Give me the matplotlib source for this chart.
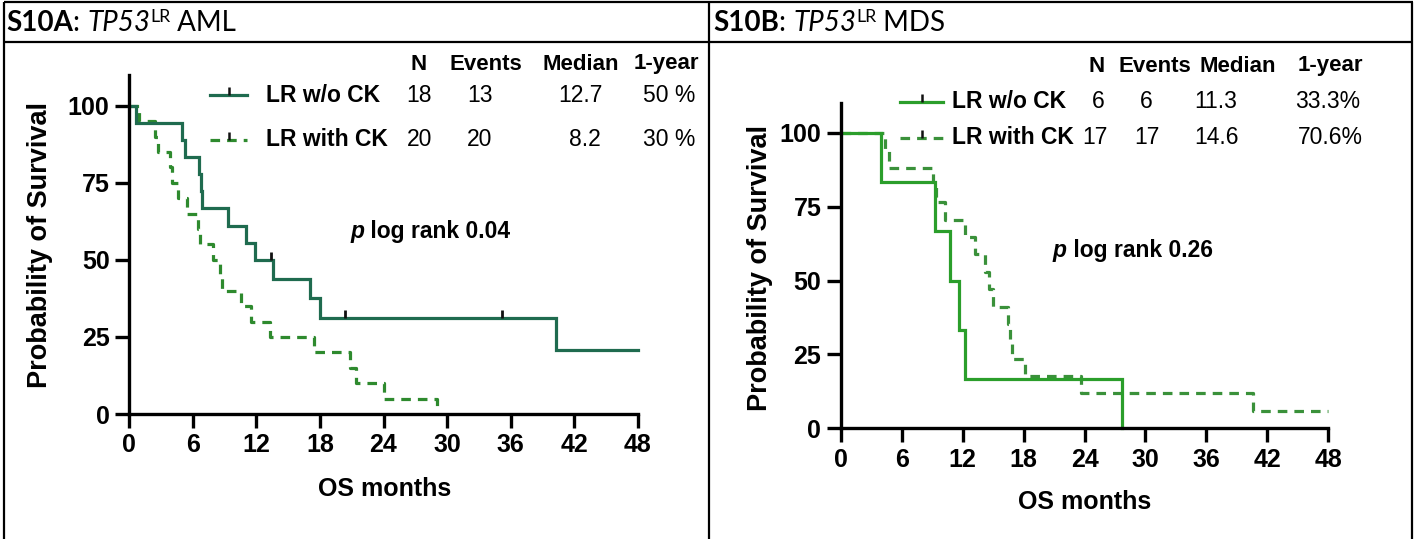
import matplotlib
matplotlib.use("Agg")
import matplotlib.pyplot as plt
from matplotlib.path import Path

W, H = 1417, 539

# ---------------- data ----------------
month_ticks = [0, 6, 12, 18, 24, 30, 36, 42, 48]
surv_ticks = [0, 25, 50, 75, 100]

# S10A  AML
a_wo_t = [0, 0.7, 5.0, 5.3, 6.6, 6.75, 6.9, 9.3, 11.05, 11.9, 13.6, 17.1, 18.0, 40.3, 48]
a_wo_s = [100, 94.4, 88.9, 83.3, 77.8, 72.2, 66.7, 61.1, 55.6, 50.0, 43.75, 37.5, 31.25, 20.8, 20.8]
a_wo_cens_t = [13.4, 20.4, 35.2]
a_wo_cens_s = [50.0, 31.25, 31.25]
a_ck_t = [0, 0.9, 2.45, 2.75, 3.9, 4.05, 4.65, 5.45, 6.5, 6.7, 7.9, 8.6, 8.8, 10.6, 11.5,
          13.3, 17.4, 20.8, 21.4, 24.0, 29.0]
a_ck_s = [100, 95, 90, 85, 80, 75, 70, 65, 60, 55, 50, 45, 40, 35, 30, 25, 20, 15, 10, 5, 0]

# S10B  MDS
b_wo_t = [0, 3.95, 9.3, 10.8, 11.6, 12.2, 27.7]
b_wo_s = [100, 83.3, 66.7, 50.0, 33.3, 16.7, 0]
b_ck_t = [0, 4.4, 4.8, 9.1, 9.4, 10.3, 12.2, 13.2, 14.2, 14.6, 15.0, 16.5, 16.7, 16.9,
          18.1, 23.7, 40.6, 48]
b_ck_s = [100, 94.1, 88.2, 82.4, 76.5, 70.6, 64.7, 58.8, 52.9, 47.1, 41.2, 35.3, 29.4,
          23.5, 17.6, 11.8, 5.9, 5.9]

table_cols = ["N", "Events", "Median", "1-year"]
group_names = ["LR w/o CK", "LR with CK"]
a_table = [["18", "13", "12.7", "50 %"], ["20", "20", "8.2", "30 %"]]
b_table = [["6", "6", "11.3", "33.3%"], ["17", "17", "14.6", "70.6%"]]
a_p = "0.04"
b_p = "0.26"

# ---------------- styling ----------------
A_SOLID = "#1f6b4f"
A_DASH = "#2e8a2e"
B_SOLID = "#2b9e2b"
B_DASH = "#3a913a"
DASH = (0, (3.0, 2.2))
LW = 2.3
BOLD = dict(family=["Liberation Sans", "DejaVu Sans"], weight="bold")
NARROW = ["Liberation Sans Narrow", "Liberation Sans", "DejaVu Sans"]
HEAD = ["Lato", "DejaVu Sans"]
cens_marker = Path([(0, 0), (0, 1)], [Path.MOVETO, Path.LINETO])

fig = plt.figure(figsize=(W / 100, H / 100), dpi=100)
ov = fig.add_axes([0, 0, 1, 1])
ov.set_xlim(0, W)
ov.set_ylim(H, 0)
ov.axis("off")
renderer = fig.canvas.get_renderer()

# table borders
bk = dict(color="black", lw=1.6, solid_capstyle="butt")
ov.plot([4, 1413], [2, 2], **bk)
ov.plot([4, 1413], [42, 42], **bk)
ov.plot([4, 4], [2, H], **bk)
ov.plot([709, 709], [2, H], **bk)
ov.plot([1412, 1412], [2, H], **bk)


def seq(x, y, pieces):
    for s, kw in pieces:
        kw = dict(kw)
        dy = kw.pop("dy", 0)
        t = ov.text(x, y + dy, s, va="baseline", ha="left", **kw)
        x += t.get_window_extent(renderer=renderer).width
    return x


def header(x, tag, disease):
    hs = 20
    seq(x, 31, [(tag, dict(family=HEAD, weight="bold", fontsize=hs)),
                (": ", dict(family=HEAD, fontsize=hs)),
                ("TP53", dict(family=HEAD, style="italic", fontsize=hs)),
                ("LR", dict(family=HEAD, fontsize=hs * 0.64, dy=-9)),
                (" " + disease, dict(family=HEAD, fontsize=hs))])


header(6, "S10A", "AML")
header(713, "S10B", "MDS")


def km_axes(x0, x1, y0, y100):
    ytop = y0 - 1.1 * (y0 - y100)
    ax = fig.add_axes([x0 / W, 1 - y0 / H, (x1 - x0) / W, (y0 - ytop) / H])
    ax.patch.set_alpha(0)
    ax.set_xlim(0, 48)
    ax.set_ylim(0, 110)
    for s in ("top", "right"):
        ax.spines[s].set_visible(False)
    for s in ("left", "bottom"):
        ax.spines[s].set_linewidth(2.4)
    ax.set_xticks(month_ticks)
    ax.set_yticks(surv_ticks)
    ax.tick_params(direction="out", length=10, width=2.4, labelsize=18, pad=4)
    for lab in ax.get_xticklabels() + ax.get_yticklabels():
        lab.set_fontfamily(BOLD["family"])
        lab.set_fontweight("bold")
    return ax


def km(ax, t, s, color, ls):
    ax.step(t, s, where="post", color=color, lw=LW, ls=ls, clip_on=False,
            solid_joinstyle="miter", dash_capstyle="butt")


# ---- panel A ----
axA = km_axes(129, 638, 414, 105.7)
km(axA, a_ck_t, a_ck_s, A_DASH, DASH)
km(axA, a_wo_t, a_wo_s, A_SOLID, "-")
axA.plot(a_wo_cens_t, a_wo_cens_s, ls="none", marker=cens_marker, ms=11,
         mec="#111111", mew=2.0, clip_on=False)

# ---- panel B ----
axB = km_axes(840.7, 1328.3, 428.3, 132.7)
km(axB, b_ck_t, b_ck_s, B_DASH, DASH)
km(axB, b_wo_t, b_wo_s, B_SOLID, "-")

# axis labels
ov.text(40, 245, "Probability of Survival", rotation=90, ha="center", va="center",
        fontsize=19.5, **BOLD)
ov.text(760, 268, "Probability of Survival", rotation=90, ha="center", va="center",
        fontsize=19.5, **BOLD)
ov.text(385, 489, "OS months", ha="center", va="center", fontsize=18, **BOLD)
ov.text(1085, 502, "OS months", ha="center", va="center", fontsize=18, **BOLD)


def legend_table(sw_x, rows_y, head_y, head_x, name_x, val_x, table, c_solid, c_dash):
    for cx, name in zip(head_x, table_cols):
        ov.text(cx, head_y, name, ha="center", va="center", fontsize=16,
                family=NARROW, weight="bold")
    for i, (y, gname, vals) in enumerate(zip(rows_y, group_names, table)):
        color = c_solid if i == 0 else c_dash
        ls = "-" if i == 0 else DASH
        ov.plot(sw_x, [y, y], color=color, lw=LW, ls=ls, dash_capstyle="butt")
        ov.plot([sum(sw_x) / 2], [y], ls="none", marker=cens_marker, ms=11,
                mec="#111111", mew=1.8)
        ov.text(name_x, y, gname, ha="left", va="center", fontsize=16.5, **BOLD)
        for cx, v in zip(val_x[i], vals):
            ov.text(cx, y, v, ha="center", va="center", fontsize=16.5, family=NARROW)


legend_table([210, 247], [95, 140], 64, [419, 486, 581, 666], 266,
             [[419, 480, 580, 669], [420, 480, 585, 669]], a_table, A_SOLID, A_DASH)
legend_table([900, 943], [102, 138], 66, [1097, 1155, 1238, 1330], 952,
             [[1098, 1146, 1216, 1328], [1095, 1147, 1216, 1330]], b_table, B_SOLID, B_DASH)

# log-rank annotations
for x, y, pv in [(350, 238, a_p), (1053, 257, b_p)]:
    seq(x, y, [("p", dict(family=BOLD["family"], weight="bold", style="italic", fontsize=16.5)),
               (" log rank " + pv, dict(fontsize=16.5, **BOLD))])

fig.savefig("out.png", dpi=100)
